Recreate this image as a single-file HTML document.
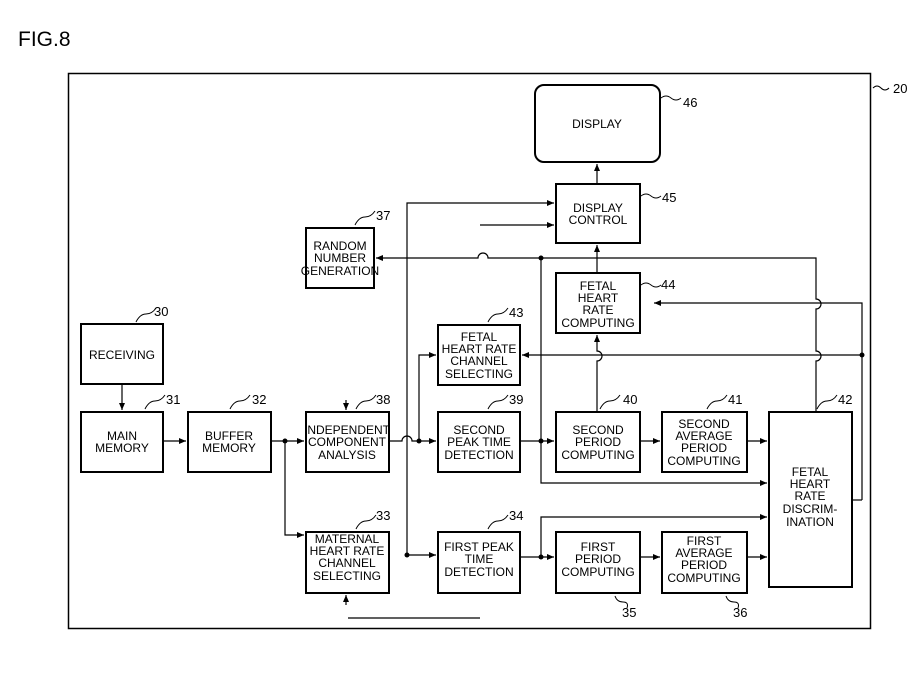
<!DOCTYPE html>
<html><head><meta charset="utf-8"><style>
html,body{margin:0;padding:0;background:#fff;}
svg{display:block;}
text{font-family:"Liberation Sans",sans-serif;fill:#000;}
.b{font-size:12px;text-anchor:middle;}
.n{font-size:13px;}
</style></head><body>
<svg width="921" height="685" viewBox="0 0 921 685" xmlns="http://www.w3.org/2000/svg">
<defs>
<marker id="a" markerWidth="8" markerHeight="8" refX="7" refY="4" orient="auto" markerUnits="userSpaceOnUse">
<path d="M0,1 L7,4 L0,7 Z" fill="#000"/></marker>
</defs>
<text x="18" y="46" style="font-size:21px">FIG.8</text>
<rect x="68.5" y="73.5" width="802" height="555" fill="none" stroke="#000" stroke-width="1.5"/>
<path d="M873,88 q4,-4 8,0 t8,0" fill="none" stroke="#000"/><text x="893" y="93" class="n">20</text>

<g fill="none" stroke="#000" stroke-width="2">
<rect x="535" y="85" width="125" height="77" rx="9"/>
<rect x="556" y="184" width="84" height="59"/>
<rect x="306" y="228" width="68" height="60"/>
<rect x="556" y="273" width="84" height="60"/>
<rect x="438" y="325" width="82" height="60"/>
<rect x="81" y="324" width="82" height="60"/>
<rect x="81" y="412" width="82" height="60"/>
<rect x="188" y="412" width="83" height="60"/>
<rect x="306" y="412" width="83" height="60"/>
<rect x="438" y="412" width="82" height="60"/>
<rect x="556" y="412" width="84" height="60"/>
<rect x="662" y="412" width="85" height="60"/>
<rect x="769" y="412" width="83" height="175"/>
<rect x="306" y="532" width="83" height="61"/>
<rect x="438" y="532" width="82" height="61"/>
<rect x="556" y="532" width="84" height="61"/>
<rect x="662" y="532" width="85" height="61"/>
</g>

<g class="b">
<text x="597" y="128">DISPLAY</text>
<text x="598" y="212">DISPLAY</text><text x="598" y="224">CONTROL</text>
<text x="340" y="250">RANDOM</text><text x="340" y="262">NUMBER</text><text x="340" y="275">GENERATION</text>
<text x="598" y="290">FETAL</text><text x="598" y="302">HEART</text><text x="598" y="314">RATE</text><text x="598" y="327">COMPUTING</text>
<text x="479" y="341">FETAL</text><text x="479" y="353">HEART RATE</text><text x="479" y="365">CHANNEL</text><text x="479" y="378">SELECTING</text>
<text x="122" y="359">RECEIVING</text>
<text x="122" y="440">MAIN</text><text x="122" y="452">MEMORY</text>
<text x="229" y="440">BUFFER</text><text x="229" y="452">MEMORY</text>
<text x="347" y="434">INDEPENDENT</text><text x="347" y="446">COMPONENT</text><text x="347" y="459">ANALYSIS</text>
<text x="479" y="434">SECOND</text><text x="479" y="446">PEAK TIME</text><text x="479" y="459">DETECTION</text>
<text x="598" y="434">SECOND</text><text x="598" y="446">PERIOD</text><text x="598" y="459">COMPUTING</text>
<text x="704" y="428">SECOND</text><text x="704" y="440">AVERAGE</text><text x="704" y="452">PERIOD</text><text x="704" y="465">COMPUTING</text>
<text x="810" y="476">FETAL</text><text x="810" y="488">HEART</text><text x="810" y="500">RATE</text><text x="810" y="513">DISCRIM-</text><text x="810" y="526">INATION</text>
<text x="347" y="543">MATERNAL</text><text x="347" y="555">HEART RATE</text><text x="347" y="567">CHANNEL</text><text x="347" y="580">SELECTING</text>
<text x="479" y="551">FIRST PEAK</text><text x="479" y="563">TIME</text><text x="479" y="576">DETECTION</text>
<text x="598" y="551">FIRST</text><text x="598" y="563">PERIOD</text><text x="598" y="576">COMPUTING</text>
<text x="704" y="545">FIRST</text><text x="704" y="557">AVERAGE</text><text x="704" y="569">PERIOD</text><text x="704" y="582">COMPUTING</text>
</g>

<g fill="none" stroke="#000" stroke-width="1">
<path d="M661,98 q5,-4 10,0 t10,0"/><path d="M641,196 q5,-4 10,0 t10,0"/><path d="M641,285 q5,-4 10,0 t10,0"/>
<path d="M355,225 q4,-8 10,-8 t10,-6"/><path d="M488,322 q4,-8 10,-8 t10,-6"/><path d="M145,409 q4,-8 10,-8 t10,-6"/>
<path d="M230,409 q4,-8 10,-8 t10,-6"/><path d="M356,409 q4,-8 10,-8 t10,-6"/><path d="M488,409 q4,-8 10,-8 t10,-6"/>
<path d="M600,409 q4,-8 10,-8 t10,-6"/><path d="M707,409 q4,-8 10,-8 t10,-6"/><path d="M817,409 q4,-8 10,-8 t10,-6"/>
<path d="M136,322 q4,-8 10,-8 t10,-6"/><path d="M356,529 q4,-8 10,-8 t10,-6"/><path d="M488,529 q4,-8 10,-8 t10,-6"/>
<path d="M615,596 q2,6 8,6 t4,6"/><path d="M726,596 q2,6 8,6 t4,6"/>
</g>
<g class="n">
<text x="683" y="107">46</text><text x="662" y="202">45</text><text x="661" y="289">44</text>
<text x="376" y="220">37</text><text x="509" y="317">43</text><text x="154" y="316">30</text>
<text x="166" y="404">31</text><text x="252" y="404">32</text><text x="376" y="404">38</text>
<text x="509" y="404">39</text><text x="623" y="404">40</text><text x="728" y="404">41</text><text x="838" y="404">42</text>
<text x="376" y="520">33</text><text x="509" y="520">34</text><text x="622" y="617">35</text><text x="733" y="617">36</text>
</g>

<g fill="none" stroke="#000" stroke-width="1.2">
<line x1="597" y1="184" x2="597" y2="164" marker-end="url(#a)"/>
<line x1="597" y1="273" x2="597" y2="245" marker-end="url(#a)"/>
<path d="M597,412 V361 a5,5 0 0 0 0,-10 V335" marker-end="url(#a)"/>
<path d="M407,555 V203 H554" marker-end="url(#a)"/>
<line x1="480" y1="225" x2="554" y2="225" marker-end="url(#a)"/>
<path d="M816,412 V361 a5,5 0 0 0 0,-10 V309 a5,5 0 0 0 0,-10 V258 H488 a5,5 0 0 0 -10,0 H376" marker-end="url(#a)"/>
<path d="M862,500 V303 H654" marker-end="url(#a)"/>
<line x1="862" y1="355" x2="522" y2="355" marker-end="url(#a)"/>
<line x1="852" y1="500" x2="862" y2="500"/>
<line x1="122" y1="384" x2="122" y2="410" marker-end="url(#a)"/>
<line x1="163" y1="441" x2="186" y2="441" marker-end="url(#a)"/>
<line x1="271" y1="441" x2="304" y2="441" marker-end="url(#a)"/>
<path d="M285,441 V535 H304" marker-end="url(#a)"/>
<path d="M389,441 H402 a5,5 0 0 1 10,0 H436" marker-end="url(#a)"/>
<path d="M419,441 V355 H436" marker-end="url(#a)"/>
<line x1="520" y1="441" x2="554" y2="441" marker-end="url(#a)"/>
<path d="M541,258 V483 H767" marker-end="url(#a)"/>
<line x1="640" y1="441" x2="660" y2="441" marker-end="url(#a)"/>
<line x1="747" y1="441" x2="767" y2="441" marker-end="url(#a)"/>
<line x1="407" y1="555" x2="436" y2="555" marker-end="url(#a)"/>
<line x1="520" y1="557" x2="554" y2="557" marker-end="url(#a)"/>
<path d="M541,557 V517 H767" marker-end="url(#a)"/>
<line x1="640" y1="557" x2="660" y2="557" marker-end="url(#a)"/>
<line x1="747" y1="557" x2="767" y2="557" marker-end="url(#a)"/>
<line x1="346" y1="400" x2="346" y2="410" marker-end="url(#a)"/>
<line x1="346" y1="605" x2="346" y2="595" marker-end="url(#a)"/>
<line x1="348" y1="618" x2="480" y2="618"/>
</g>
<g fill="#000">
<circle cx="285" cy="441" r="2.5"/><circle cx="419" cy="441" r="2.5"/><circle cx="541" cy="441" r="2.5"/>
<circle cx="541" cy="258" r="2.5"/><circle cx="862" cy="355" r="2.5"/><circle cx="407" cy="555" r="2.5"/>
<circle cx="541" cy="557" r="2.5"/>
</g>
</svg>
</body></html>
